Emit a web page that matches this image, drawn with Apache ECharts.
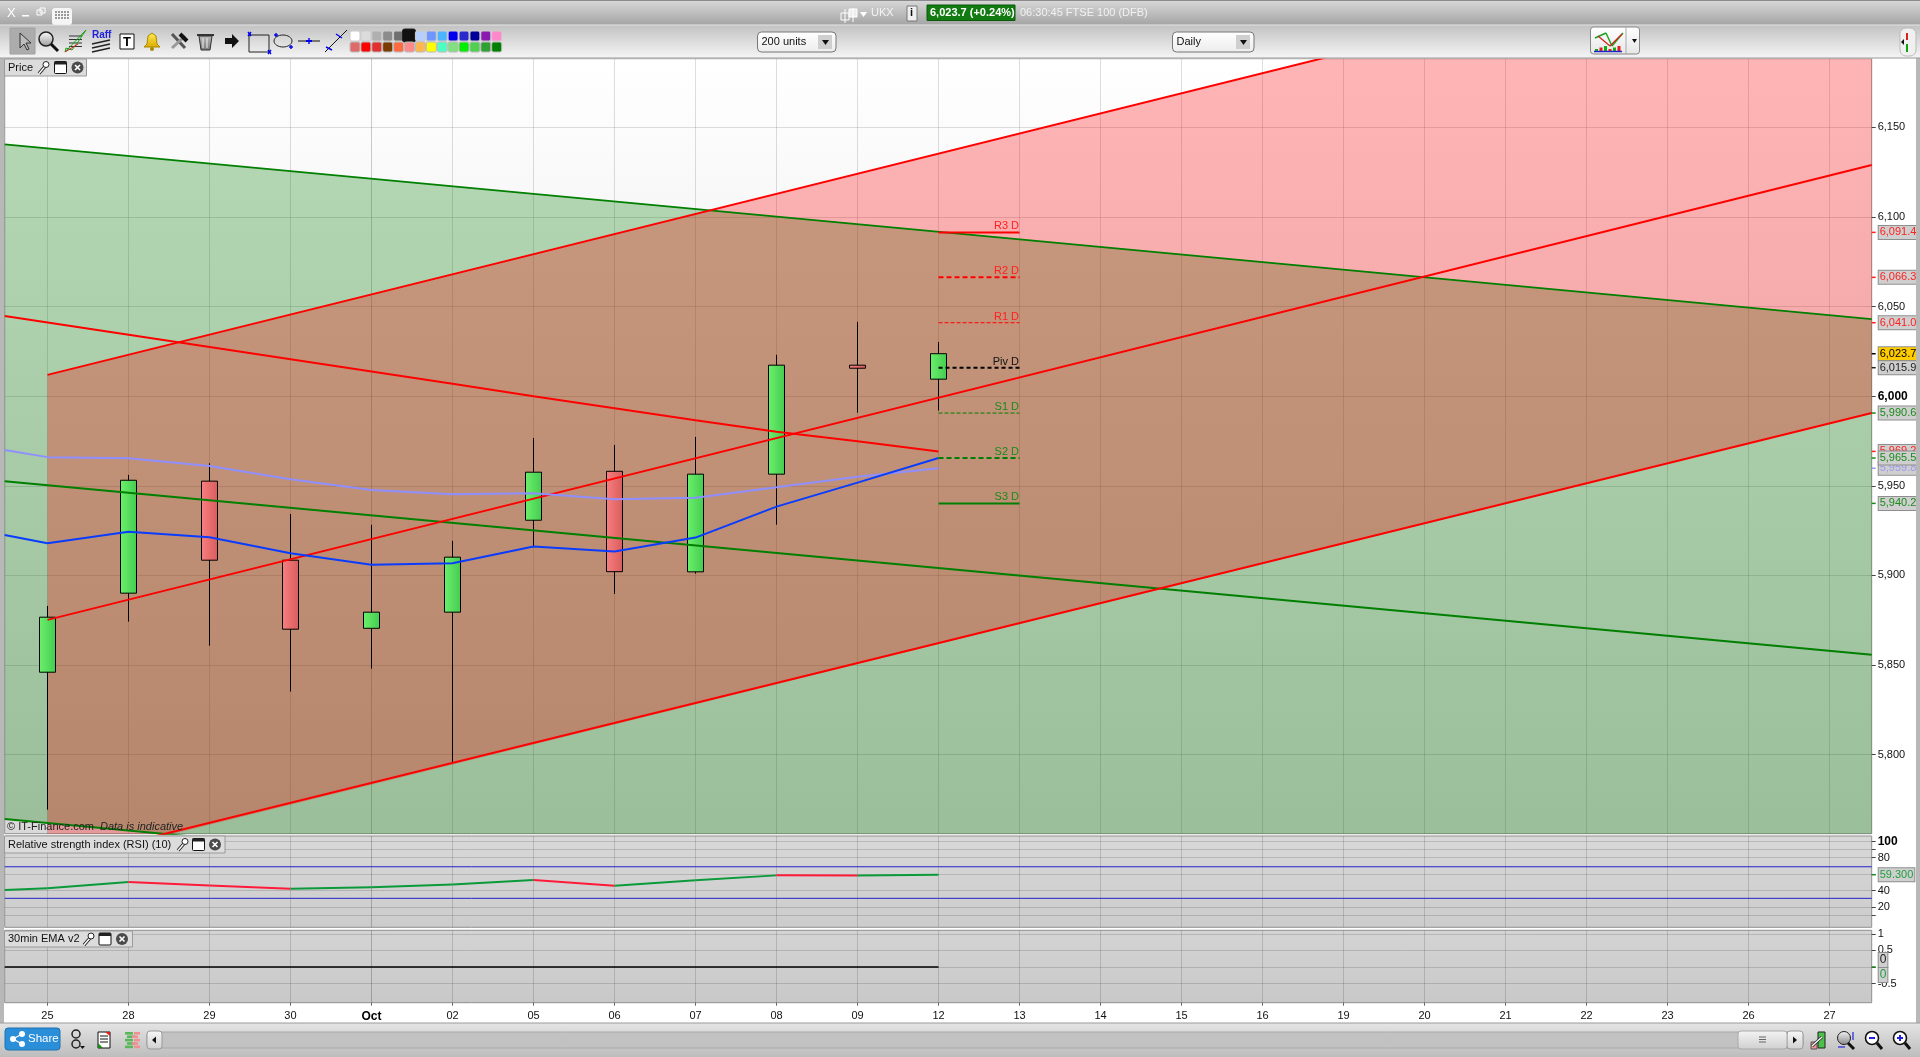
<!DOCTYPE html>
<html><head><meta charset="utf-8">
<style>html,body{margin:0;padding:0;background:#fff;overflow:hidden}#c{width:1920px;height:1057px}</style>
<script src="https://cdn.jsdelivr.net/npm/echarts@6/dist/echarts.min.js"></script>
</head><body><div id="c"></div>
<script>
// ---------- data ----------
const categories = ['25','28','29','30','Oct','02','05','06','07','08','09','12','13','14','15','16','19','20','21','22','23','26','27'];
const opens  = [5846.0,5890.1,5952.6,5908.5,5870.5,5879.5,5930.8,5958.1,5902.0,5956.5,6017.3,6009.5];
const closes = [5876.7,5953.1,5908.5,5870.0,5879.5,5910.2,5957.6,5902.1,5956.5,6017.3,6015.6,6023.7];
const lows   = [5769.3,5874.2,5860.8,5835.2,5848.0,5795.2,5916.5,5889.7,5901.0,5928.3,5990.8,5992.0];
const highs  = [5883.0,5956.1,5962.6,5934.3,5928.2,5919.3,5976.7,5972.8,5977.3,6023.1,6041.5,6030.3];
const xMin = -0.528, xMax = 22.52, pxMin = 5755.9, pxMax = 6188.3;
const emaBlue     = [5922.6,5918.0,5924.4,5921.3,5912.4,5906.0,5906.8,5916.1,5913.3,5921.1,5938.4,5951.8,5965.5];
const emaLavender = [5970.0,5966.0,5965.4,5961.1,5953.7,5947.7,5945.3,5945.9,5942.5,5943.4,5949.2,5955.1,5959.8];
const redUpper  = [[0,6011.9],[22.52,6264.6]];
const redMiddle = [[0,5875.2],[22.52,6129.0]];
const redLower  = [[0,5739.7],[22.52,5990.6]];
const redFalling = [[-0.528,6044.8],[5,6006.9],[6,6000.0],[7,5993.3],[8,5986.6],[9,5980.1],[10,5974.9],[11,5969.2]];
const greenUpper  = [[-0.528,6140.5],[22.52,6043.0]];
const greenMiddle = [[-0.528,5952.6],[22.52,5855.7]];
const greenLower  = [[-0.528,5764.1],[22.52,5667.0]];
const greenBand = [[-0.528,6140.5],[22.52,6043.0],[22.52,5755.9],[1.35,5755.9],[-0.528,5764.1]];
const redBand   = [[0,6011.9],[15.72,6188.3],[22.52,6188.3],[22.52,5990.6],[1.55,5755.9],[0,5755.9]];
const pivotNames  = ['R3 D','R2 D','R1 D','Piv D','S1 D','S2 D','S3 D'];
const pivotValues = [6091.4,6066.3,6041.0,6015.9,5990.6,5965.5,5940.2];
const priceTicks = [5800,5850,5900,5950,6000,6050,6100,6150];
const rsiValues = [40.6,42.7,50.4,46.3,42.3,43.9,47.5,53.0,46.0,52.5,58.5,58.3,59.3];
const rsiBands  = [69,30.5];
const rsiTicks  = [100,90,80,60,40,20,10];
const rsiLabels = [100,80,40,20];
const emaLine   = [[-0.528,0],[11,0]];
const emaTicks  = [1,0.5,0,-0.5];
const emaLabels = [1,0.5,-0.5];
const priceTags = [6091.4,6066.3,6041.0,6023.7,6015.9,5990.6,5969.2,5959.8,5965.5,5940.2];

// ---------- styles ----------
const RED='#ff0000', GREEN='#007f00', TXTRED='#ff2020', TXTGREEN='#1a8a1a';
const tagStyle = {6091.4:[TXTRED],6066.3:[TXTRED],6041:[TXTRED],6023.7:['#000','#ffcc00'],6015.9:['#222'],5990.6:[TXTGREEN],
  5969.2:[TXTRED],5959.8:['#9a9aee'],5965.5:[TXTGREEN],5940.2:[TXTGREEN]};
const pivotStyle = [
 {c:RED,w:2,t:'solid',l:TXTRED},{c:RED,w:2,t:[5,3],l:TXTRED},{c:RED,w:1,t:[4,2],l:TXTRED},
 {c:'#000',w:2,t:[4,3],l:'#111'},
 {c:GREEN,w:1,t:[4,2],l:TXTGREEN},{c:GREEN,w:2,t:[5,3],l:TXTGREEN},{c:GREEN,w:2,t:'solid',l:TXTGREEN}];
const FONT='"Liberation Sans",Arial,sans-serif';
const vgrad=(a,b)=>({type:'linear',x:0,y:0,x2:0,y2:1,colorStops:[{offset:0,color:a},{offset:1,color:b}]});
const hgrad=(a,b)=>({type:'linear',x:0,y:0,x2:1,y2:0,colorStops:[{offset:0,color:a},{offset:1,color:b}]});
const comma=v=>{const s=v.toFixed(1).split('.');return s[0].replace(/\B(?=(\d{3})+$)/g,',')+'.'+s[1];};
const idx=categories.map((_,i)=>i);

// ---------- axes ----------
function xAxis(gridIndex,labels,lineAlpha){
  const colors=idx.map(i=>categories[i]==='Oct'?`rgba(0,0,0,${lineAlpha*1.5})`:`rgba(0,0,0,${lineAlpha})`);
  return {type:'value',gridIndex,min:xMin,max:xMax,
    axisLine:{show:false,onZero:false},
    axisTick:{show:labels,length:3,customValues:idx,lineStyle:{color:'#666'}},
    splitLine:{show:true,lineStyle:{color:colors,width:1}},
    axisLabel:{show:labels,customValues:idx,margin:8,color:'#111',fontFamily:FONT,fontSize:11,
      formatter:v=>categories[v]==='Oct'?'{b|Oct}':categories[v],rich:{b:{fontWeight:'bold',fontSize:12,fontFamily:FONT,color:'#000'}}}};
}
function yAxis(gridIndex,min,max,ticks,labels,fmt,alpha){
  return {type:'value',gridIndex,min,max,position:'right',
    axisLine:{show:false,onZero:false},
    axisTick:{show:true,length:4,customValues:ticks,lineStyle:{color:'#444'}},
    splitLine:{show:true,lineStyle:{color:`rgba(0,0,0,${alpha})`,width:1}},
    axisLabel:{show:true,customValues:labels,margin:6,color:'#111',fontFamily:FONT,fontSize:11,formatter:fmt,
      rich:{b:{fontWeight:'bold',fontSize:12,fontFamily:FONT,color:'#000'}}}};
}

// ---------- graphics: application chrome ----------
const g=[];
const Z=40;
const R=(x,y,w,h,fill,stroke,r)=>g.push({type:'rect',silent:true,z:Z,shape:{x,y,width:w,height:h,r:r||0},style:{fill:fill,stroke:stroke||null,lineWidth:1}});
const L=(x1,y1,x2,y2,c,w)=>g.push({type:'line',silent:true,z:Z+1,shape:{x1,y1,x2,y2},style:{stroke:c,lineWidth:w||1}});
const C=(cx,cy,r,fill,stroke,w)=>g.push({type:'circle',silent:true,z:Z+1,shape:{cx,cy,r},style:{fill:fill||null,stroke:stroke||null,lineWidth:w||1}});
const P=(pts,fill,stroke)=>g.push({type:'polygon',silent:true,z:Z+1,shape:{points:pts},style:{fill:fill||null,stroke:stroke||null,lineWidth:1}});
const T=(x,y,text,size,color,o)=>g.push({type:'text',silent:true,z:Z+2,x,y,style:Object.assign({text,font:`${(o&&o.ff)||''} ${size}px ${FONT}`,fill:color,textVerticalAlign:'middle'},o&&o.s)});
// frames
R(0,0,1920,25,vgrad('#d9d9d9','#a4a4a4'));
L(0,0.5,1920,0.5,'#8a8a8a');
R(0,25,1920,33.5,vgrad('#c2c2c2','#f6f6f6'));
L(0,25,1920,25,'#e8e8e8');L(0,58,1920,58,'#999');
R(0,58,4,965,'#b8b8b8');R(1916,58,4,965,'#b8b8b8');
R(0,1023,1920,34,vgrad('#e4e4e4','#bdbdbd'));L(0,1023,1920,1023,'#9a9a9a');
// title bar
T(7,13,'X',13,'#fff');R(22,15,7,1.5,'#fff');R(37,10,5,5,null,'#fff');R(40,8,5,5,null,'#fff');
R(52,8,20,17,'#f5f5f5',null,3);for(let i=0;i<3;i++)for(let j=0;j<5;j++)R(55+j*3,11+i*3,2,2,'#999');
L(845,9,845,23,'#fff',1);R(841,13,8,7,null,'#fff');L(853,8,853,22,'#fff',1);R(849,9,8,8,'#eee','#fff');
P([[860,12],[867,12],[863.5,17]],'#fff');
T(871,13,'UKX',11,'#f4f4f4');
R(907,6,10,15,'#efefef','#777');T(910,13,'i',11,'#111',{ff:'bold'});
R(927,5,88,15.5,'#117a11','#0a5a0a');
T(930,13,'6,023.7 (+0.24%)',11,'#fff',{ff:'bold'});
T(1020,13,'06:30:45 FTSE 100 (DFB)',11,'#f2f2f2');
// toolbar icons
R(10,28,25,26,'#acacac','#a0a0a0');
P([[20,33],[20,48],[24,44],[27,50],[29,49],[26,43],[31,43]],'#bdbdbd','#333');
C(46,39,7,vgrad('#fff','#999'),'#222',1.5);L(51,44,58,51,'#111',3);
for(let i=0;i<4;i++)L(69,36+i*3.5,82,36+i*3.5,'#333',1);
P([[65,52],[66,48],[72,50],[78,42],[86,30]],null,'#18a018');L(65,52,78,44,'#e02020',1);
T(92,35,'Raff',10,'#2222dd',{ff:'bold'});
L(92,44,110,40,'#222',1.4);L(92,48,110,44,'#222',1.4);L(92,52,110,48,'#222',1.4);
R(120,34,14,15,'#fff','#111');T(123,42,'T',13,'#000',{ff:'bold'});
P([[144,47],[147,44],[148,36],[152,33],[156,36],[157,44],[160,47]],vgrad('#ffee55','#ddaa00'),'#aa8800');C(152,49,2,'#aa8800');
L(172,34,185,48,'#555',3);L(172,48,185,36,'#999',3);L(180,34,187,41,'#111',4);
P([[199,36],[212,36],[210,50],[201,50]],vgrad('#bbb','#777'),'#333');L(197,35,214,35,'#333',2);L(203,38,203,48,'#eee');L(207,38,207,48,'#eee');
P([[225,38],[232,38],[232,34],[239,41],[232,48],[232,44],[225,44]],'#111');
R(249,35,20,17,null,'#222');L(248,32,251,36,'#00e',1.4);L(251,32,248,36,'#00e',1.4);L(268,50,271,54,'#00e',1.4);L(271,50,268,54,'#00e',1.4);
g.push({type:'ellipse',silent:true,z:Z+1,shape:{cx:283,cy:41,rx:9,ry:6},style:{fill:null,stroke:'#222',lineWidth:1}});
L(274,35,278,35,'#00e',1.4);L(276,33,276,37,'#00e',1.4);L(289,47,293,47,'#00e',1.4);L(291,45,291,49,'#00e',1.4);
L(298,41,320,41,'#111',1);L(306,41,312,41,'#00e',2);L(309,38,309,44,'#00e',1.4);
L(325,52,347,30,'#111',1);L(326,47,332,50,'#00e',1.4);L(336,34,342,38,'#00e',1.4);
const sw1=['#ffffff','#dcdcdc','#b0b0b0','#8c8c8c','#707070','#111111','#b5d0ff','#6e96ff','#4db5ff','#0000ee','#2a2acc','#000099','#8a1ab0','#ff88cc'];
const sw2=['#e06a6a','#ff0000','#e03030','#7a3a00','#ff6a40','#ff8a8a','#ffb84d','#ffff00','#4dffc0','#80e080','#00ee00','#50d050','#30a030','#008000'];
sw1.forEach((c,i)=>{const big=i===5;R(350+i*10.9-(big?2:0),31-(big?2:0),10+(big?3:0),10+(big?3:0),c,big?'#222':'#ccc',2);});
sw2.forEach((c,i)=>R(350+i*10.9,42,10,10,c,'#bbb',2));
// selects
function sel(x,w,label){R(x,32,w,20,vgrad('#fff','#ececec'),'#777',4);T(x+4,42,label,11,'#111');R(x+w-18,35,14,14,'#cfcfcf');P([[x+w-14,40],[x+w-7,40],[x+w-10.5,45]],'#111');}
sel(757.5,78.5,'200 units');sel(1172.5,81.5,'Daily');
R(1590.5,27,49,27,vgrad('#fff','#e6e6e6'),'#888',3);L(1626,27,1626,54,'#aaa');
P([[1632,39],[1637,39],[1634.5,43]],'#111');
L(1595,38,1606,33,'#18a018',1.4);L(1606,33,1612,46,'#18a018',1.4);L(1612,46,1623,33,'#18a018',1.4);
L(1598,36,1610,46,'#d02020',1.2);L(1610,46,1622,34,'#d02020',1.2);
for(let i=0;i<6;i++)R(1595+i*4.5,49-(i%3)*1.5,3,2.5+(i%3)*1.5,i%2?'#e02020':'#10b010');
L(1594,51.5,1622,51.5,'#2222cc',1.5);
R(1900,28,16,28,'#f0f0f0','#bbb',6);L(1907,33,1907,40,'#e02020',2);L(1907,44,1907,52,'#10a010',2);P([[1901,42],[1904,39],[1904,45]],'#111');
// pane tabs
function wrench(x,y){L(x+2,y+6,x+8,y-1,'#222',3.4);L(x+2,y+6,x+8,y-1,'#fff',1.4);C(x+9,y-3,3,'#fff','#222');}
function win(x,y){R(x,y-6,12,12,'#fff','#111',1);R(x,y-6,12,3,'#222');}
function cls(x,y){C(x+6,y,6,'#4a4a4a');L(x+3.5,y-2.5,x+8.5,y+2.5,'#fff',1.6);L(x+8.5,y-2.5,x+3.5,y+2.5,'#fff',1.6);}
function tab(w,y,h,label,wx,nx,cx){const m=y+h/2;R(4.5,y,w,h,'#dcdcdc','#9a9a9a');T(8,m,label,11,'#111');wrench(wx,m);win(nx,m);cls(cx,m);}
tab(82,59,17,'Price',37,54.5,71.5);
tab(220.5,836,17,'Relative strength index (RSI) (10)',176,192.5,209);
tab(128,931,16,'30min EMA v2',82,99,116);
T(7,827,'© IT-Finance.com',11,'#222');
T(100,827,'Data is indicative',11,'#222',{ff:'italic'});
// bottom bar
R(5,1028,55,22,'#2a8fd8','#2070b0',3);
C(13,1039,3,'#fff');C(22,1034,3,'#fff');C(22,1044,3,'#fff');L(13,1039,22,1034,'#fff',1.2);L(13,1039,22,1044,'#fff',1.2);
T(28,1039,'Share',11.5,'#fff');
C(76,1034,4,null,'#222',1.5);C(76,1044,4,null,'#222',1.5);P([[80,1046],[85,1046],[82.5,1049]],'#111');
R(98,1032,12,16,'#fff','#111');L(100,1036,108,1036,'#111');L(100,1039,108,1039,'#111');L(100,1042,108,1042,'#111');P([[98,1048],[103,1048],[98,1043]],'#1a8a1a');P([[110,1032],[105,1032],[110,1036]],'#e02020');
for(let i=0;i<5;i++){R(125+(i%2)*2,1032+i*3.4,8,2.6,'#5ab85a');R(134-(i%2)*2,1032+i*3.4,6,2.6,'#f09090');}
R(147,1032,1656,16,'#c2c2c2','#a8a8a8',3);
R(147,1031,15,18,vgrad('#f8f8f8','#d0d0d0'),'#999',3);P([[152,1040],[156,1036.5],[156,1043.5]],'#111');
R(1787,1031,16,18,vgrad('#f8f8f8','#d0d0d0'),'#999',3);P([[1797,1040],[1793,1036.5],[1793,1043.5]],'#111');
R(1738,1031,49,18,vgrad('#f4f4f4','#cfcfcf'),'#aaa',3);for(let i=0;i<3;i++)L(1759,1037+i*2.5,1766,1037+i*2.5,'#666');
R(1818,1032,7,16,'#4cc04c','#222');R(1811,1042,6,7,'#f09090','#555');L(1812,1046,1822,1037,'#222',3);L(1812,1046,1822,1037,'#fff',1.4);
C(1844,1038,6.5,vgrad('#f4f4f4','#888'),'#222');L(1848,1043,1854,1049,'#111',3);L(1853,1032,1853,1040,'#2222dd',1.2);L(1838,1047,1845,1047,'#2222dd',1.2);
C(1872,1038,6.5,'#fff','#111',1.6);L(1869,1038,1875,1038,'#2222dd',2);L(1877,1043,1882,1049,'#111',3);
C(1900,1038,6.5,'#fff','#111',1.6);L(1897,1038,1903,1038,'#2222dd',2);L(1900,1035,1900,1041,'#2222dd',2);L(1905,1043,1910,1049,'#111',3);

// ---------- series ----------
const polygon=(pts,fill)=>({type:'custom',xAxisIndex:0,yAxisIndex:0,z:1,silent:true,coordinateSystem:'cartesian2d',data:[[pts[0][0],pts[0][1]]],
  renderItem:(p,api)=>({type:'polygon',shape:{points:pts.map(q=>api.coord(q))},style:{fill}})});
const line=(data,color,width,extra)=>Object.assign({type:'line',xAxisIndex:0,yAxisIndex:0,z:4,silent:true,symbol:'none',data,
  lineStyle:{color,width},animation:false},extra||{});
const withX=vals=>[xMin].concat(idx.slice(0,vals.length-1)).map((x,i)=>[x,vals[i]]);

// RSI coloured by direction
const rsiPts=withX(rsiValues);
const rsiSegments=rsiPts.slice(1).map((p,i)=>{
  const up=p[1]>=rsiPts[i][1];
  return line([rsiPts[i],p],up?'#0a9a3a':'#ff1a3a',2,{xAxisIndex:1,yAxisIndex:1});
});

const tagData=priceTags.map(v=>{const s=tagStyle[v];return {value:[xMax,v],itemStyle:{color:s[0],opacity:1},
  label:{color:s[0],backgroundColor:s[1]||'#cfcfcf',formatter:comma(v)}};});
const tagLabel={show:true,position:'right',distance:3,fontFamily:FONT,fontSize:11,lineHeight:13,padding:[0,1,0,1],borderColor:'#8e8e8e',borderWidth:1};
const tagSeries=(xi,yi,data)=>({type:'scatter',xAxisIndex:xi,yAxisIndex:yi,z:6,silent:true,clip:false,symbol:'rect',symbolSize:[4,1.5],symbolOffset:[2,0],label:tagLabel,itemStyle:{opacity:1},data});

const series=[
  polygon(greenBand,'rgba(0,128,0,0.29)'),
  polygon(redBand,'rgba(255,0,0,0.29)'),
  {type:'candlestick',xAxisIndex:0,yAxisIndex:0,z:3,silent:true,barWidth:17,
   data:opens.map((o,i)=>[i,o,closes[i],lows[i],highs[i]]),
   itemStyle:{color:hgrad('#6cf06c','#44cc50'),color0:hgrad('#f88080','#d85c5c'),borderColor:'#000',borderColor0:'#000',borderWidth:1}},
  line(greenUpper,GREEN,2),line(greenMiddle,GREEN,2),line(greenLower,GREEN,2),
  line(redUpper,RED,2),line(redMiddle,RED,2),line(redLower,RED,2),line(redFalling,RED,2),
  line(withX(emaLavender),'#8f8fff',2),line(withX(emaBlue),'#0a3cff',2),
  ...pivotValues.map((v,i)=>{const s=pivotStyle[i];return {type:'line',xAxisIndex:0,yAxisIndex:0,z:5,silent:true,symbol:'none',
     data:[[11,v],[12,v]],lineStyle:{color:s.c,width:s.w,type:s.t}};}),
  {type:'scatter',xAxisIndex:0,yAxisIndex:0,z:5,silent:true,symbolSize:1,itemStyle:{color:'rgba(0,0,0,0)',opacity:1},
   data:pivotValues.map((v,i)=>({value:[12,v],label:{show:true,position:'left',distance:0,offset:[0,-6],formatter:pivotNames[i],color:pivotStyle[i].l,fontFamily:FONT,fontSize:11}}))},
  tagSeries(0,0,tagData),
  ...rsiBands.map(v=>line([[xMin,v],[xMax,v]],'#2222cc',1,{xAxisIndex:1,yAxisIndex:1})),
  ...rsiSegments,
  tagSeries(1,1,[{value:[xMax,59.3],itemStyle:{color:'#1a8a1a',opacity:1},label:{color:'#1f9f3f',backgroundColor:'#cfcfcf',formatter:'59.300',fontSize:11}}]),
  line(emaLine,'#000',1.5,{xAxisIndex:2,yAxisIndex:2}),
  tagSeries(2,2,[
    {value:[xMax,0],itemStyle:{color:'rgba(0,0,0,0)',opacity:1},label:{color:'#222',backgroundColor:'#cfcfcf',formatter:'0',fontSize:12,lineHeight:14,offset:[0,-7]}},
    {value:[xMax,0],itemStyle:{color:'#1a8a1a',opacity:1},label:{color:'#1f9f3f',backgroundColor:'#cfcfcf',formatter:'0',fontSize:12,lineHeight:14,offset:[0,8]}}]),
];

const border='#8f8f8f';
const option={
  animation:false,
  backgroundColor:'#ffffff',
  grid:[
   {left:4.7,top:58.7,width:1867,height:775,show:true,borderColor:border,borderWidth:1,backgroundColor:vgrad('#ffffff','#d9d9d9')},
   {left:4.7,top:836,width:1867,height:91.3,show:true,borderColor:border,borderWidth:1,backgroundColor:vgrad('#d8d8d8','#cccccc')},
   {left:4.7,top:930.3,width:1867,height:72.4,show:true,borderColor:border,borderWidth:1,backgroundColor:vgrad('#d4d4d4','#c8c8c8')}],
  xAxis:[xAxis(0,false,0.13),xAxis(1,false,0.14),xAxis(2,true,0.14)],
  yAxis:[
    yAxis(0,pxMin,pxMax,priceTicks,priceTicks,v=>v===6000?'{b|6,000}':comma(v).slice(0,-2),0.13),
    yAxis(1,-4.8,106.5,rsiTicks,rsiLabels,v=>v===100?'{b|100}':String(v),0.14),
    yAxis(2,-1.08,1.11,emaTicks,emaLabels,v=>String(v),0.14)],
  series,
  graphic:{elements:g}
};
echarts.init(document.getElementById('c'),null,{renderer:'canvas'}).setOption(option);
</script></body></html>
